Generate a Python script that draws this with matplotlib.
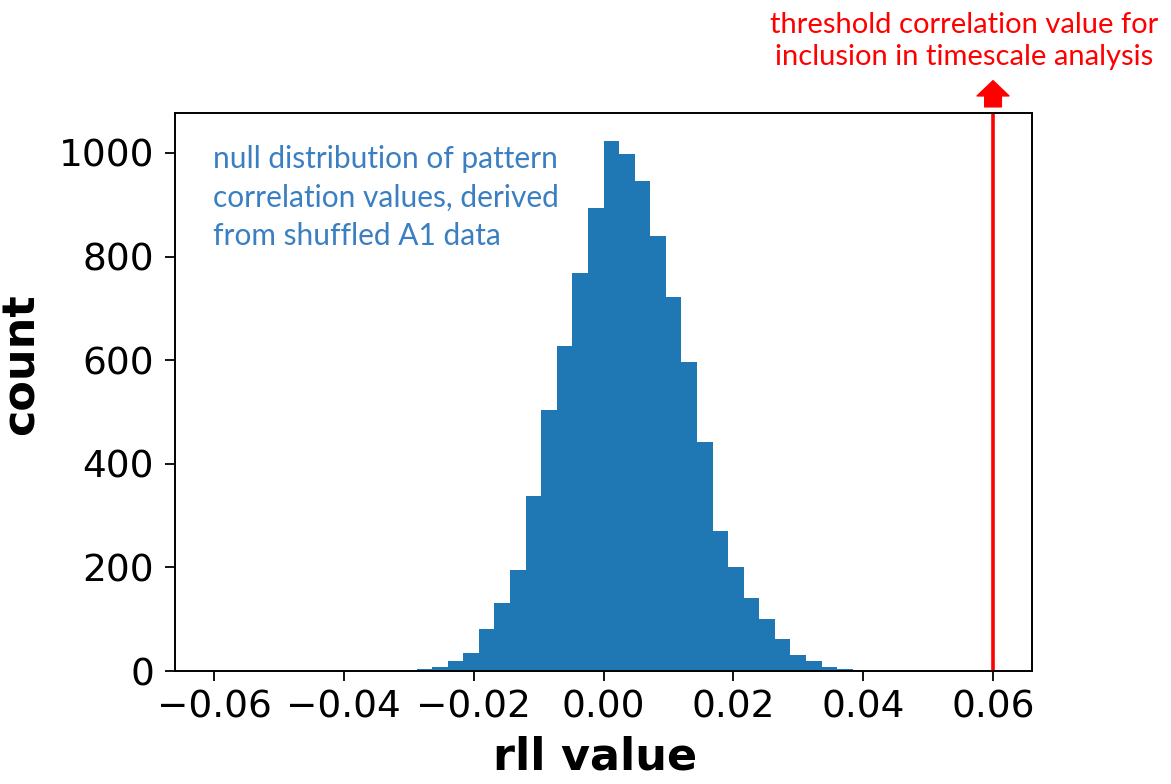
import numpy as np
import matplotlib
matplotlib.use("Agg")
import matplotlib.pyplot as plt

# histogram of shuffled pattern correlations, 50 bins between -0.06 and 0.06
bin_lo, bin_hi, n_bins = -0.06, 0.06, 50
counts = [0] * 13 + [
    4, 7, 20, 35, 82, 131, 194, 337, 503, 627, 768, 894,
    1022, 998, 946, 839, 722, 597, 442, 271, 201, 140, 100, 62,
    30, 19, 8, 4,
] + [0] * 9
threshold = 0.06

x_ticks = [-0.06, -0.04, -0.02, 0.00, 0.02, 0.04, 0.06]
y_ticks = [0, 200, 400, 600, 800, 1000]

null_text = "null distribution of pattern\ncorrelation values, derived\nfrom shuffled A1 data"
thr_text = "threshold correlation value for\ninclusion in timescale analysis"

hum = ["Lato", "DejaVu Sans"]

edges = np.linspace(bin_lo, bin_hi, n_bins + 1)
centers = (edges[:-1] + edges[1:]) / 2

fig = plt.figure(figsize=(11.71, 7.84), dpi=100)
ax = fig.add_axes([175 / 1171, 113 / 784, 857 / 1171, 558 / 784])

ax.hist(centers, bins=edges, weights=counts, color="#1f77b4")
ax.axvline(threshold, color="red", lw=2.6)

ax.set_xlim(-0.066, 0.066)
ax.set_ylim(0, 1077)
ax.set_xticks(x_ticks)
ax.set_yticks(y_ticks)
ax.set_xticklabels([f"{t:.2f}".replace("-", "\u2212") for t in x_ticks])
ax.tick_params(labelsize=27, length=7, width=1.3)
ax.tick_params(axis="y", pad=8)
ax.tick_params(axis="x", pad=6)
for s in ax.spines.values():
    s.set_linewidth(1.4)

ax.set_ylabel("count", fontsize=32, fontweight="bold")
ax.yaxis.set_label_coords(-0.154, 0.55)
ax.set_xlabel("rll value", fontsize=32, fontweight="bold")
ax.xaxis.set_label_coords(0.49, -0.115)

ax.text(0.044, 0.942, null_text, transform=ax.transAxes, va="top", ha="left",
        color="#3a7fc1", fontsize=21.5, family=hum, linespacing=1.44)

fig.text(964 / 1171, 1 - 12 / 784, thr_text, ha="center", va="top",
         color="red", fontsize=21, family=hum, linespacing=1.3)

ax.annotate("", xy=(threshold, 1.058), xytext=(threshold, 1.011),
            xycoords=("data", "axes fraction"), annotation_clip=False,
            arrowprops=dict(arrowstyle="simple,head_width=2.3,head_length=1.1,tail_width=1.2",
                            color="red", mutation_scale=10, shrinkA=0, shrinkB=0))

fig.savefig("out.png", dpi=100)
